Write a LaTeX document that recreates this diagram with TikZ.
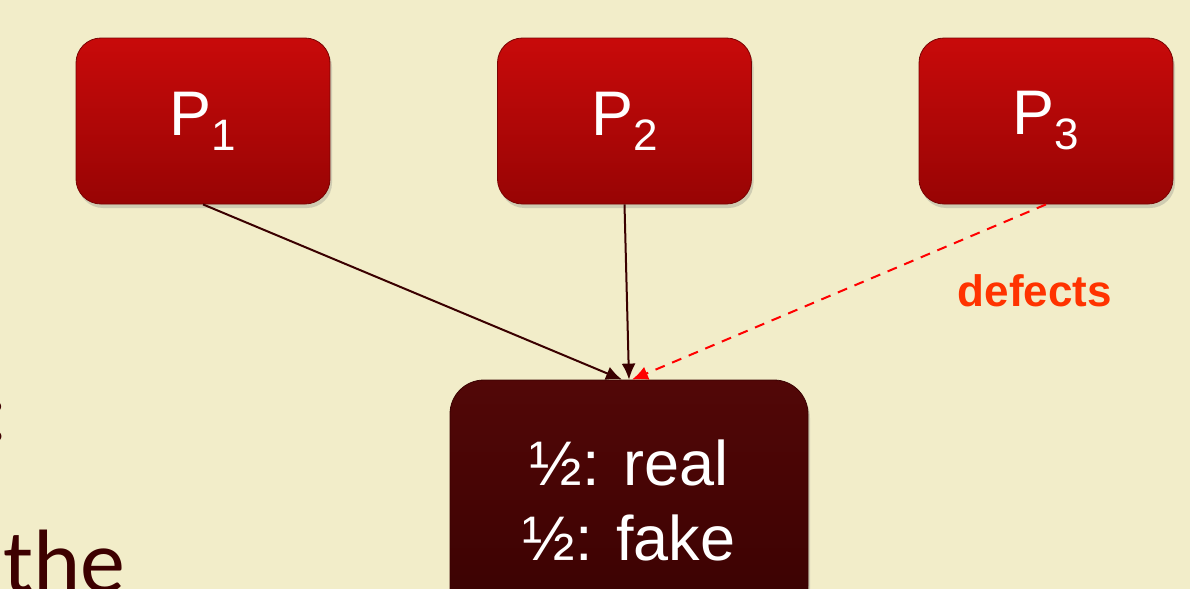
\documentclass[tikz,border=0pt]{standalone}
\usepackage{fontspec}
\setmainfont{Liberation Sans}
\newfontfamily\calib{Carlito}
\usetikzlibrary{arrows.meta,shadows}
\definecolor{bg}{HTML}{F2EDC9}
\definecolor{ptop}{HTML}{C80A0A}
\definecolor{pbot}{HTML}{980404}
\definecolor{otop}{HTML}{520707}
\definecolor{obot}{HTML}{3A0202}
\definecolor{conncol}{HTML}{3A0000}
\definecolor{defcol}{HTML}{FF3300}
\definecolor{txtdark}{HTML}{3D0000}
\tikzset{
  pbox/.style={rounded corners=12.5pt, minimum width=127pt, minimum height=83pt,
    top color=ptop, bottom color=pbot, draw=pbot!80!black, line width=0.4pt,
    drop shadow={shadow xshift=1pt, shadow yshift=-2pt, opacity=0.3},
    text=white, font=\fontsize{31.5pt}{36pt}\selectfont, inner sep=0pt},
  obox/.style={rounded corners=17pt, minimum width=179pt, minimum height=120pt,
    top color=otop, bottom color=obot, draw=obot, line width=0.4pt,
    drop shadow={shadow xshift=1pt, shadow yshift=-2pt, opacity=0.3},
    text=white, font=\fontsize{31.5pt}{37.5pt}\selectfont, align=center, inner sep=0pt},
  conn/.style={draw=conncol, line width=1pt, -{Latex[length=8pt,width=7pt]}},
  defconn/.style={draw=red, line width=1pt, dashed, dash pattern=on 5pt off 4pt, -{Latex[length=8pt,width=7pt]}},
  slidetxt/.style={text=txtdark, font=\calib\fontsize{45pt}{50pt}\selectfont, inner sep=0pt},
}
\newcommand{\psub}[1]{P\raisebox{-7.5pt}{\fontsize{22pt}{24pt}\selectfont #1}}
\begin{document}
\begin{tikzpicture}[x=0.5pt,y=-0.5pt]
\fill[bg] (0,0) rectangle (1190,589);
\useasboundingbox (0,0) rectangle (1190,589);
\begin{scope}
\clip (0,0) rectangle (1190,589);
\node[pbox] (p1) at (203,121) {\psub{1}};
\node[pbox] (p2) at (624.5,121) {\psub{2}};
\node[pbox] (p3) at (1046,121) {\psub{3}};
\node[obox] (out) at (629,500) {½: real\\½: fake};
\node[slidetxt, anchor=base west] (the) at (3,592) {the};
\node[slidetxt, anchor=base east] (colon) at (8.5,441) {:};
\node[text=defcol, font=\bfseries\fontsize{22pt}{26pt}\selectfont, inner sep=0pt] (def) at (1035,291) {defects};
\draw[conn] (p1.south) -- ([xshift=-3.5pt]out.north);
\draw[conn] (p2.south) -- (out.north);
\draw[defconn] (p3.south) -- ([xshift=1.5pt]out.north);
\end{scope}
\end{tikzpicture}
\end{document}
